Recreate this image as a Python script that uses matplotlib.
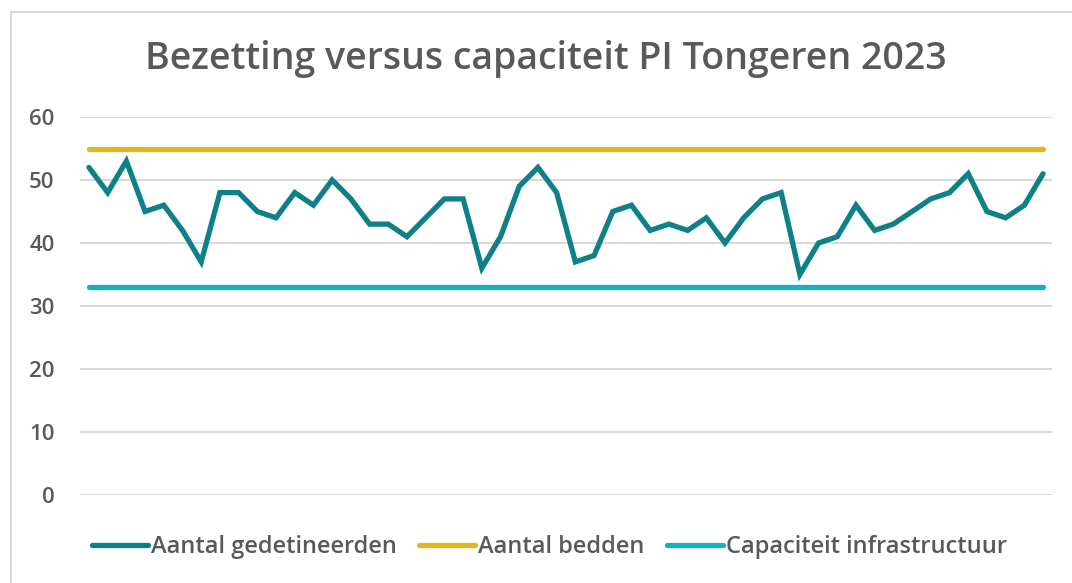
import matplotlib
matplotlib.use("Agg")
import matplotlib.pyplot as plt
from matplotlib.patches import Rectangle
from matplotlib import font_manager as fm

weeks = list(range(1, 53))
gedetineerden = [52, 48, 53, 45, 46, 42, 37, 48, 48, 45, 44, 48, 46, 50, 47, 43, 43, 41,
                 44, 47, 47, 36, 41, 49, 52, 48, 37, 38, 45, 46, 42, 43, 42, 44, 40, 44,
                 47, 48, 35, 40, 41, 46, 42, 43, 45, 47, 48, 51, 45, 44, 46, 51]
bedden = [55] * 52
capaciteit = [33] * 52
yticks = [0, 10, 20, 30, 40, 50, 60]
title = "Bezetting versus capaciteit PI Tongeren 2023"
labels = ["Aantal gedetineerden", "Aantal bedden", "Capaciteit infrastructuur"]
colors = ["#0D8088", "#E0B81E", "#12B2C1"]


def font_file(name):
    for f in fm.fontManager.ttflist:
        if f.fname.split('/')[-1] == name:
            return f.fname
    return None


semi = font_file('OpenSans-Semibold.ttf')


def fp(path, size, weight):
    if path:
        return fm.FontProperties(fname=path, size=size)
    return fm.FontProperties(family='Open Sans', size=size, weight=weight)


plt.rcParams['font.family'] = ['Open Sans', 'DejaVu Sans']
W, H = 1072, 583
fig = plt.figure(figsize=(W / 100, H / 100), dpi=100)
fig.patches.append(Rectangle((11 / W, -0.1), 1.2, 1 - 12 / H + 0.1, transform=fig.transFigure,
                             fill=False, edgecolor="#D9D9D9", linewidth=1.5))

ax = fig.add_axes([79.6 / W, 1 - 495 / H, 972.8 / W, 378 / H])
x = list(range(len(weeks)))
ax.plot(x, gedetineerden, color=colors[0], lw=3.8, solid_capstyle='round', solid_joinstyle='miter', label=labels[0], zorder=3)
ax.plot(x, bedden, color=colors[1], lw=3.8, solid_capstyle='round', label=labels[1], zorder=3)
ax.plot(x, capaciteit, color=colors[2], lw=3.8, solid_capstyle='round', label=labels[2], zorder=3)

ax.set_xlim(-0.5, len(weeks) - 0.5)
ax.set_ylim(0, 60)
ax.set_yticks(yticks)
ax.set_xticks([])
ax.grid(axis='y', color="#D9D9D9", linewidth=1.5)
ax.set_axisbelow(True)
for s in ax.spines.values():
    s.set_visible(False)
ax.tick_params(axis='y', length=0, pad=18, labelcolor="#595959")
ax.set_yticklabels([str(v) for v in yticks], fontproperties=fp(semi, 16, 'semibold'))

fig.text(546 / W, 1 - 59 / H, title, ha='center', va='center',
         fontproperties=fp(semi, 27, 'semibold'), color="#595959")

fig.legend(loc='center', bbox_to_anchor=(549.5 / W, 1 - 547 / H), ncol=3, frameon=False,
           handlelength=2.37, handletextpad=0.15, columnspacing=0.93,
           labelcolor="#595959", prop=fp(semi, 17, 'semibold'))

fig.savefig("out.png", dpi=100)
